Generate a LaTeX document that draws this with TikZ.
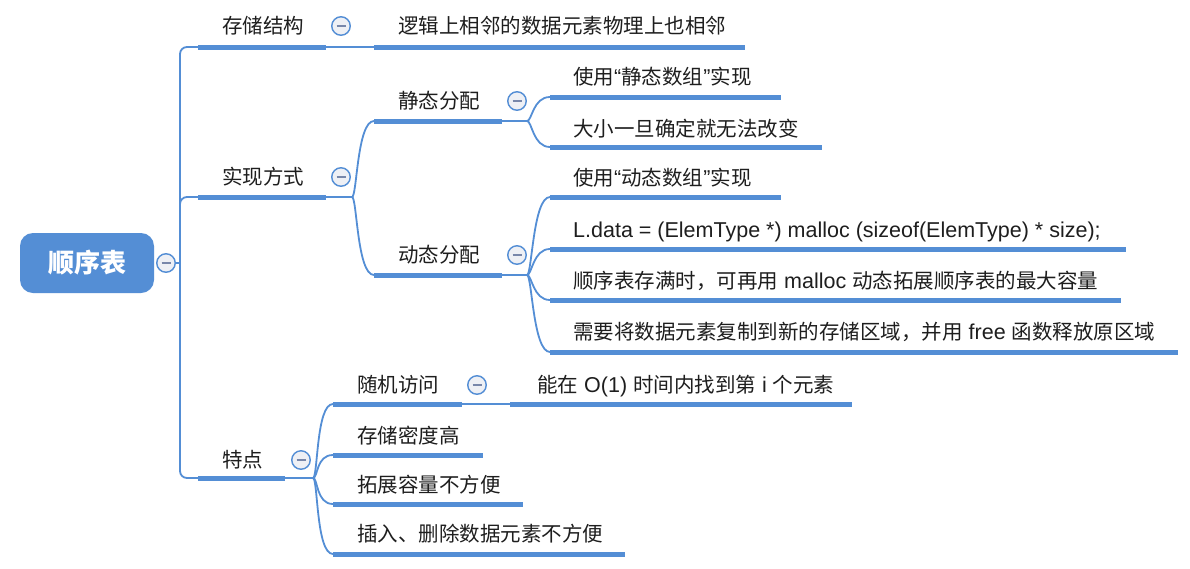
\documentclass[tikz,border=0pt]{standalone}
\usepackage{fontspec}
\newfontfamily\cjk{Noto Sans CJK SC}
\newfontfamily\lat{Liberation Sans}
\newcommand\La[1]{{\lat\fontsize{21.5}{24}\selectfont #1}}
\definecolor{mblue}{RGB}{84,142,213}
\definecolor{txt}{RGB}{30,30,30}
\definecolor{foldbg}{RGB}{238,240,245}
\definecolor{foldmk}{RGB}{120,135,170}
\tikzset{
  lbl/.style={anchor=west, inner sep=0pt, text height=0.83em, text depth=0.07em, yshift=-4pt,
    font=\cjk\fontsize{20.5}{24}\selectfont, text=txt},
  ul/.style={line width=5pt, draw=mblue},
  conn/.style={line width=1.8pt, draw=mblue},
  fold/.style={circle, draw=mblue, line width=1.4pt, fill=foldbg, minimum size=18.5pt, inner sep=0pt,
    path picture={\draw[foldmk, line width=1.8pt] ([xshift=-4.5pt]path picture bounding box.center) -- ([xshift=4.5pt]path picture bounding box.center);}},
  rootbox/.style={rounded corners=13pt, fill=mblue, minimum width=134pt, minimum height=60pt,
    inner sep=0pt, text=white, font=\cjk\bfseries\fontsize{26}{30}\selectfont},
  brc/.style={conn}
}
\newcommand\brcurve[2]{\draw[brc] (#1) .. controls +(5,0) and +(-17,0) .. (#2);}
\begin{document}
\begin{tikzpicture}[x=1pt,y=-1pt]
\fill[white] (0,0) rectangle (1190,568);
\useasboundingbox (0,0) rectangle (1190,568);

% root
\node[rootbox] (root) at (87,263) {顺序表};
\node[fold] (f0) at (166,263) {};
\coordinate (T) at (180,263);

% level 2
\node[lbl] (A) at (222,26) {存储结构};
\coordinate (As) at (198,47); \coordinate (Ae) at (326,47);
\node[fold] (fA) at (341,26) {};

\node[lbl] (B) at (222,177) {实现方式};
\coordinate (Bs) at (198,197); \coordinate (Be) at (326,197);
\node[fold] (fB) at (341,177) {};

\node[lbl] (C) at (222,460) {特点};
\coordinate (Cs) at (198,478); \coordinate (Ce) at (285,478);
\node[fold] (fC) at (301,460) {};

% level 3
\node[lbl] (A1) at (398,26) {逻辑上相邻的数据元素物理上也相邻};
\coordinate (A1s) at (374,47); \coordinate (A1e) at (745,47);

\node[lbl] (B1) at (398,101) {静态分配};
\coordinate (B1s) at (374,121); \coordinate (B1e) at (502,121);
\node[fold] (fB1) at (517,101) {};

\node[lbl] (B2) at (398,255) {动态分配};
\coordinate (B2s) at (374,275); \coordinate (B2e) at (502,275);
\node[fold] (fB2) at (517,255) {};

\node[lbl] (C1) at (357,385) {随机访问};
\coordinate (C1s) at (333,404); \coordinate (C1e) at (462,404);
\node[fold] (fC1) at (477,385) {};

\node[lbl] (C2) at (357,436) {存储密度高};
\coordinate (C2s) at (333,455); \coordinate (C2e) at (483,455);

\node[lbl] (C3) at (357,485) {拓展容量不方便};
\coordinate (C3s) at (333,504); \coordinate (C3e) at (523,504);

\node[lbl] (C4) at (357,534) {插入、删除数据元素不方便};
\coordinate (C4s) at (333,554); \coordinate (C4e) at (625,554);

% level 4
\node[lbl] (B11) at (573,77) {使用\La{“}静态数组\La{”}实现};
\coordinate (B11s) at (550,97); \coordinate (B11e) at (781,97);

\node[lbl] (B12) at (573,129) {大小一旦确定就无法改变};
\coordinate (B12s) at (550,147); \coordinate (B12e) at (822,147);

\node[lbl] (B21) at (573,178) {使用\La{“}动态数组\La{”}实现};
\coordinate (B21s) at (550,197); \coordinate (B21e) at (781,197);

\node[lbl] (B22) at (573,230) {\La{L.data = (ElemType *) malloc (sizeof(ElemType) * size);}};
\coordinate (B22s) at (550,249); \coordinate (B22e) at (1126,249);

\node[lbl] (B23) at (573,281) {顺序表存满时，可再用\La{ malloc }动态拓展顺序表的最大容量};
\coordinate (B23s) at (550,300); \coordinate (B23e) at (1121,300);

\node[lbl] (B24) at (573,332) {需要将数据元素复制到新的存储区域，并用\La{ free }函数释放原区域};
\coordinate (B24s) at (550,352); \coordinate (B24e) at (1178,352);

\node[lbl] (C11) at (537,385) {能在\La{ O(1) }时间内找到第\La{ i }个元素};
\coordinate (C11s) at (510,404); \coordinate (C11e) at (852,404);

% underlines
\foreach \u in {A,B,C,A1,B1,B2,C1,C2,C3,C4,B11,B12,B21,B22,B23,B24,C11}
  \draw[ul] (\u s) -- (\u e);

% trunk
\draw[conn] (f0) -- (T);
\draw[conn, rounded corners=7pt] (As) -| (T) |- (Cs);
\draw[conn, rounded corners=7pt] (T) |- (Bs);

% branches
\draw[conn] (Ae) -- (A1s);
\coordinate (Bj) at (352,197);
\draw[conn] (Be) -- (Bj);
\brcurve{Bj}{B1s}
\brcurve{Bj}{B2s}

\coordinate (Cj) at (313,478);
\draw[conn] (Ce) -- (Cj);
\brcurve{Cj}{C1s}
\brcurve{Cj}{C2s}
\brcurve{Cj}{C3s}
\brcurve{Cj}{C4s}

\coordinate (B1j) at (527,121);
\draw[conn] (B1e) -- (B1j);
\brcurve{B1j}{B11s}
\brcurve{B1j}{B12s}

\coordinate (B2j) at (527,275);
\draw[conn] (B2e) -- (B2j);
\brcurve{B2j}{B21s}
\brcurve{B2j}{B22s}
\brcurve{B2j}{B23s}
\brcurve{B2j}{B24s}

\draw[conn] (C1e) -- (C11s);
\end{tikzpicture}
\end{document}
